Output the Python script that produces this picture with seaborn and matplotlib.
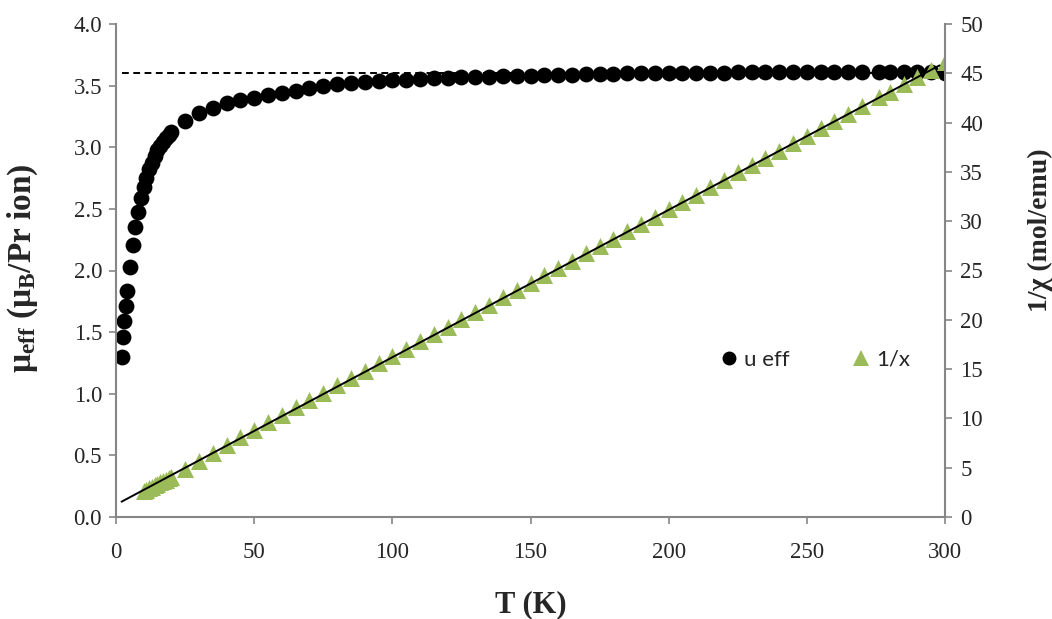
import numpy as np
import pandas as pd
import matplotlib
matplotlib.use("Agg")
import matplotlib.pyplot as plt
from matplotlib.lines import Line2D
from matplotlib.ticker import FormatStrFormatter
import seaborn as sns

# ---- data -------------------------------------------------------------
# effective moment per Pr ion vs temperature
t_low = [2, 2.5, 3, 3.5, 4, 5, 6, 7, 8, 9, 10, 11, 12, 13, 14, 15, 16, 17, 18, 19, 20]
mu_low = [1.30, 1.46, 1.59, 1.71, 1.83, 2.03, 2.21, 2.355, 2.475, 2.585, 2.675,
          2.75, 2.82, 2.875, 2.93, 2.975, 3.01, 3.045, 3.075, 3.10, 3.125]

t_high = [25, 30, 35, 40, 45, 50, 55, 60, 65, 70, 75, 80, 85, 90, 95, 100,
          105, 110, 115, 120, 125, 130, 135, 140, 145, 150, 155, 160, 165, 170,
          175, 180, 185, 190, 195, 200, 205, 210, 215, 220, 225, 230, 235, 240,
          245, 250, 255, 260, 265, 270, 276, 280, 285, 290, 295, 300]
mu_high = [3.21, 3.28, 3.32, 3.355, 3.38, 3.40, 3.42, 3.44, 3.46, 3.48, 3.495,
           3.51, 3.52, 3.53, 3.537, 3.543, 3.548, 3.553, 3.558, 3.563, 3.567,
           3.570, 3.573, 3.576, 3.578, 3.581, 3.583, 3.586, 3.588, 3.591, 3.594,
           3.598, 3.600, 3.601, 3.602, 3.603, 3.604, 3.605, 3.606, 3.606, 3.607,
           3.608, 3.608, 3.609, 3.610, 3.610, 3.611, 3.611, 3.612, 3.612, 3.613,
           3.613, 3.613, 3.612, 3.610, 3.600]

# inverse susceptibility vs temperature
t_chi_low = [10, 11, 12, 13, 14, 15, 16, 17, 18, 19, 20]
inv_chi_low = [2.60, 2.75, 2.90, 3.05, 3.20, 3.35, 3.50, 3.65, 3.80, 3.95, 4.10]
inv_chi_high = [4.85, 5.70, 6.50, 7.35, 8.10, 8.85, 9.60, 10.35, 11.15, 11.90,
                12.60, 13.35, 14.10, 14.85, 15.60, 16.30, 17.05, 17.80, 18.55,
                19.29, 20.04, 20.78, 21.53, 22.27, 23.02, 23.76, 24.51, 25.25,
                26.00, 26.74, 27.49, 28.23, 28.98, 29.72, 30.47, 31.21, 31.96,
                32.70, 33.45, 34.19, 34.94, 35.68, 36.43, 37.17, 37.92, 38.66,
                39.41, 40.15, 40.90, 41.64, 42.55, 43.13, 43.88, 44.62, 45.37, 46.15]

# Curie-Weiss linear fit of 1/chi
fit_t = [2, 298]
fit_inv_chi = [1.55, 45.8]

# free-ion reference moment
ref_t = [2, 300]
ref_mu = [3.6, 3.6]

mu_df = pd.DataFrame({"T": t_low + t_high, "mu": mu_low + mu_high})
chi_df = pd.DataFrame({"T": t_chi_low + t_high, "inv_chi": inv_chi_low + inv_chi_high})
fit_df = pd.DataFrame({"T": fit_t, "inv_chi": fit_inv_chi})
ref_df = pd.DataFrame({"T": ref_t, "mu": ref_mu})

# ---- style ------------------------------------------------------------
sns.set_theme(style="white")
plt.rcParams["font.family"] = ["Liberation Serif", "DejaVu Serif"]
plt.rcParams["mathtext.fontset"] = "custom"
plt.rcParams["mathtext.rm"] = "Liberation Serif"
plt.rcParams["mathtext.bf"] = "Liberation Serif:bold"
plt.rcParams["mathtext.it"] = "Liberation Serif:italic"

GREEN = "#9BBB59"
GRAY = "#868686"

fig = plt.figure(figsize=(10.52, 6.19), dpi=100)
ax = fig.add_axes([116 / 1052, 1 - 517 / 619, 829 / 1052, 493 / 619])
ax2 = ax.twinx()

sns.lineplot(data=ref_df, x="T", y="mu", ax=ax, color="black", lw=1.4,
             linestyle=(0, (3.5, 2.3)), zorder=1)
sns.scatterplot(data=mu_df, x="T", y="mu", ax=ax, color="black", s=130,
                linewidth=0, marker="o", zorder=2)

sns.scatterplot(data=chi_df, x="T", y="inv_chi", ax=ax2, color=GREEN, s=150,
                linewidth=0, marker="^", zorder=2)
sns.lineplot(data=fit_df, x="T", y="inv_chi", ax=ax2, color="black", lw=1.4,
             zorder=3)

ax.set_xlim(0, 300)
ax.set_ylim(0, 4)
ax2.set_ylim(0, 50)
ax.set_xticks(np.arange(0, 301, 50))
ax.set_yticks(np.arange(0, 4.01, 0.5))
ax.yaxis.set_major_formatter(FormatStrFormatter("%.1f"))
ax2.set_yticks(np.arange(0, 51, 5))

for a in (ax, ax2):
    for s in a.spines.values():
        s.set_visible(False)
for side in ("left", "bottom"):
    ax.spines[side].set_visible(True)
    ax.spines[side].set_color(GRAY)
    ax.spines[side].set_linewidth(1.5)
ax2.spines["right"].set_visible(True)
ax2.spines["right"].set_color(GRAY)
ax2.spines["right"].set_linewidth(1.5)

ax.tick_params(axis="x", direction="out", length=5, width=1.2, color=GRAY,
               labelsize=16.5, pad=13, bottom=True)
ax.tick_params(axis="y", direction="out", length=5, width=1.2, color=GRAY,
               labelsize=16.5, pad=5, left=True)
ax2.tick_params(axis="y", direction="out", length=5, width=1.2, color=GRAY,
                labelsize=16.5, pad=6, right=True)

ax.set_xlabel("T (K)", fontsize=22, fontweight="bold")
ax.xaxis.set_label_coords(0.5, -0.148)
ax.xaxis.label.set_va("top")

ax.set_ylabel(r"$\mathbf{\mu_{eff}}$ $\mathbf{(\mu_{B}/Pr\ ion)}$", fontsize=24)
ax.yaxis.label.set_va("center")
ax.yaxis.set_label_coords(-0.113, 0.505)

ax2.set_ylabel("1/χ (mol/emu)", fontsize=20, fontweight="bold")
ax2.yaxis.label.set_va("center")
ax2.yaxis.set_label_coords(1.1146, 0.582)

handles = [
    Line2D([], [], linestyle="none", marker="o", color="black", markersize=10,
           markeredgewidth=0),
    Line2D([], [], linestyle="none", marker="^", color=GREEN, markersize=11.5,
           markeredgewidth=0),
]
ax2.legend(handles, ["u eff", "1/x"], ncol=2, frameon=False, loc="center left",
           bbox_to_anchor=(0.7286, 0.3185), borderpad=0, borderaxespad=0,
           handlelength=0.8, handletextpad=0.3, columnspacing=2.8,
           prop={"family": "Lato", "size": 16})

fig.savefig("out.png", dpi=100)
